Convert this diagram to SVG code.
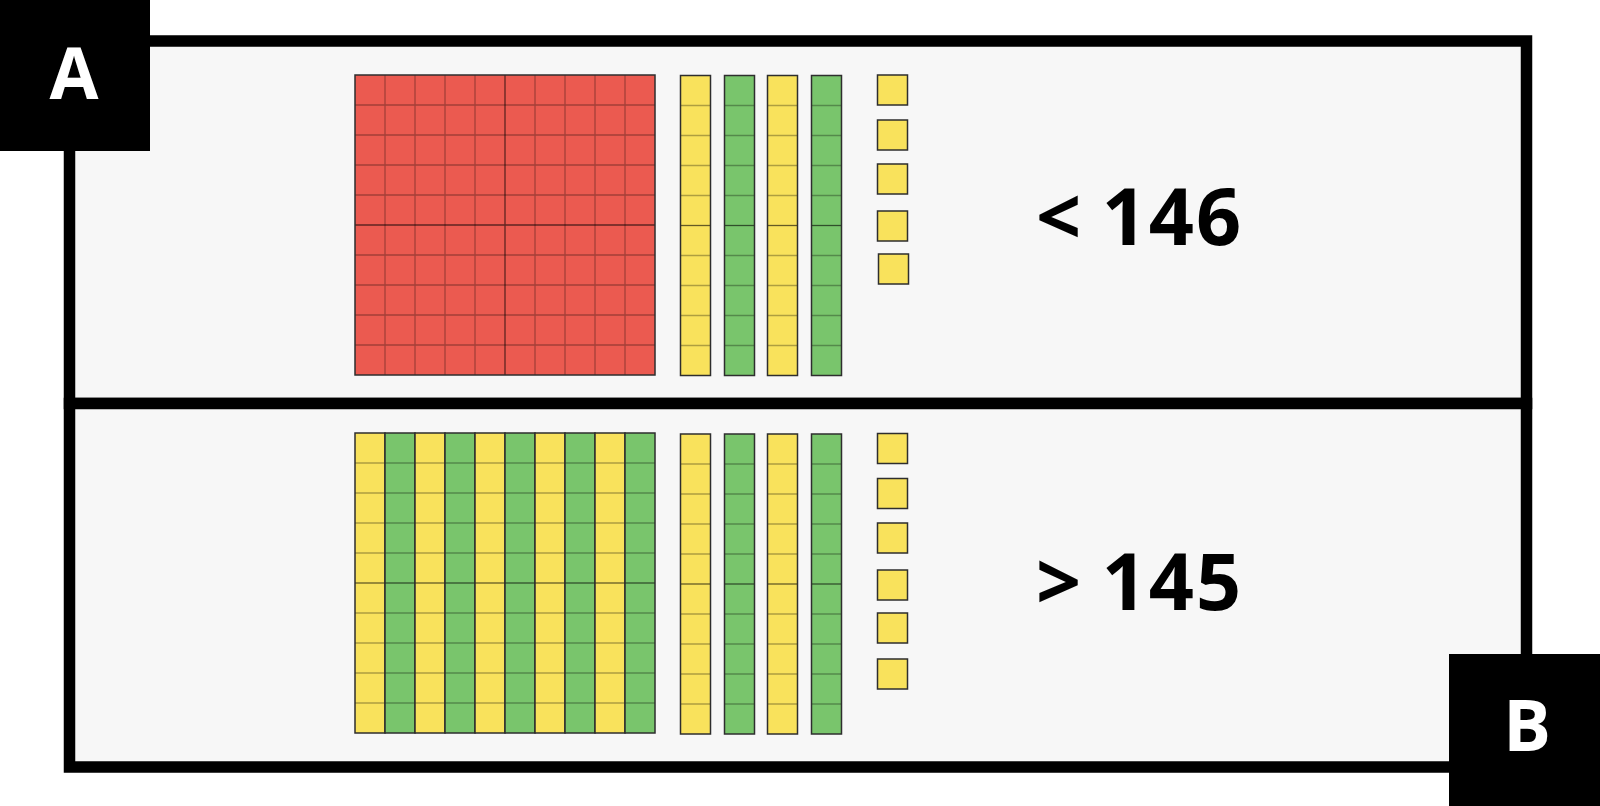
<svg xmlns="http://www.w3.org/2000/svg" xmlns:xlink="http://www.w3.org/1999/xlink" width="1600" height="806" viewBox="0 0 1600 806">
<style>
.panel{fill:#f7f7f7;stroke:#000;stroke-width:11.5}
.tag{fill:#000}
.tagtxt{font-family:"Open Sans","DejaVu Sans",sans-serif;font-weight:700;font-size:71px;fill:#fff;text-anchor:middle}
.cmp{font-family:"Open Sans","DejaVu Sans",sans-serif;font-weight:700;font-size:79px;fill:#000}
.num{letter-spacing:2px}
.cell{fill:none;stroke:rgba(0,0,0,0.3);stroke-width:1.3}
.mid{fill:none;stroke:rgba(0,0,0,0.6);stroke-width:1.3}
.outline{fill:none;stroke:#2e2e2e;stroke-width:1.5}
.y{fill:#f9e25c}
.g{fill:#79c56c}
.r{fill:#eb5a50}
</style>
<defs>
<g id="rod">
<rect width="30" height="300"/>
<path class="cell" d="M0 30H30M0 60H30M0 90H30M0 120H30M0 180H30M0 210H30M0 240H30M0 270H30"/>
<path class="mid" d="M0 150H30"/>
<rect class="outline" width="30" height="300"/>
</g>
<g id="unit">
<rect class="y" width="30" height="30"/>
<rect class="outline" width="30" height="30"/>
</g>
</defs>
<rect width="1600" height="806" fill="#fff"/>
<g id="frame">
<rect class="panel" x="69.5" y="41" width="1457" height="362.5"/>
<rect class="panel" x="69.5" y="403.5" width="1457" height="363.5"/>
</g>
<g id="panel-top">
<g id="hundred-top">
<rect class="r" x="355" y="75" width="300" height="300"/>
<path class="cell" d="M385 75V375M415 75V375M445 75V375M475 75V375M535 75V375M565 75V375M595 75V375M625 75V375M355 105H655M355 135H655M355 165H655M355 195H655M355 255H655M355 285H655M355 315H655M355 345H655"/>
<path class="mid" d="M505 75V375M355 225H655"/>
<rect class="outline" x="355" y="75" width="300" height="300"/>
</g>
<g id="tens-top">
<use xlink:href="#rod" x="680.5" y="75.5" fill="#f9e25c"/>
<use xlink:href="#rod" x="724.5" y="75.5" fill="#79c56c"/>
<use xlink:href="#rod" x="767.5" y="75.5" fill="#f9e25c"/>
<use xlink:href="#rod" x="811.5" y="75.5" fill="#79c56c"/>
</g>
<g id="ones-top">
<use xlink:href="#unit" x="877.5" y="75"/>
<use xlink:href="#unit" x="877.5" y="120"/>
<use xlink:href="#unit" x="877.5" y="164"/>
<use xlink:href="#unit" x="877.5" y="211"/>
<use xlink:href="#unit" x="878.5" y="254"/>
</g>
<text class="cmp" x="1036" y="245">&lt; <tspan class="num">146</tspan></text>
</g>
<g id="panel-bottom">
<g id="hundred-bottom">
<use xlink:href="#rod" x="355" y="433" fill="#f9e25c"/>
<use xlink:href="#rod" x="385" y="433" fill="#79c56c"/>
<use xlink:href="#rod" x="415" y="433" fill="#f9e25c"/>
<use xlink:href="#rod" x="445" y="433" fill="#79c56c"/>
<use xlink:href="#rod" x="475" y="433" fill="#f9e25c"/>
<use xlink:href="#rod" x="505" y="433" fill="#79c56c"/>
<use xlink:href="#rod" x="535" y="433" fill="#f9e25c"/>
<use xlink:href="#rod" x="565" y="433" fill="#79c56c"/>
<use xlink:href="#rod" x="595" y="433" fill="#f9e25c"/>
<use xlink:href="#rod" x="625" y="433" fill="#79c56c"/>
</g>
<g id="tens-bottom">
<use xlink:href="#rod" x="680.5" y="434" fill="#f9e25c"/>
<use xlink:href="#rod" x="724.5" y="434" fill="#79c56c"/>
<use xlink:href="#rod" x="767.5" y="434" fill="#f9e25c"/>
<use xlink:href="#rod" x="811.5" y="434" fill="#79c56c"/>
</g>
<g id="ones-bottom">
<use xlink:href="#unit" x="877.5" y="433.5"/>
<use xlink:href="#unit" x="877.5" y="478.5"/>
<use xlink:href="#unit" x="877.5" y="523"/>
<use xlink:href="#unit" x="877.5" y="570"/>
<use xlink:href="#unit" x="877.5" y="613"/>
<use xlink:href="#unit" x="877.5" y="659"/>
</g>
<text class="cmp" x="1036" y="610">&gt; <tspan class="num">145</tspan></text>
</g>
<g id="tag-a">
<rect class="tag" x="0" y="0" width="150" height="151"/>
<text class="tagtxt" x="74" y="99">A</text>
</g>
<g id="tag-b">
<rect class="tag" x="1449" y="654" width="151" height="152"/>
<text class="tagtxt" x="1527" y="751">B</text>
</g>
</svg>
